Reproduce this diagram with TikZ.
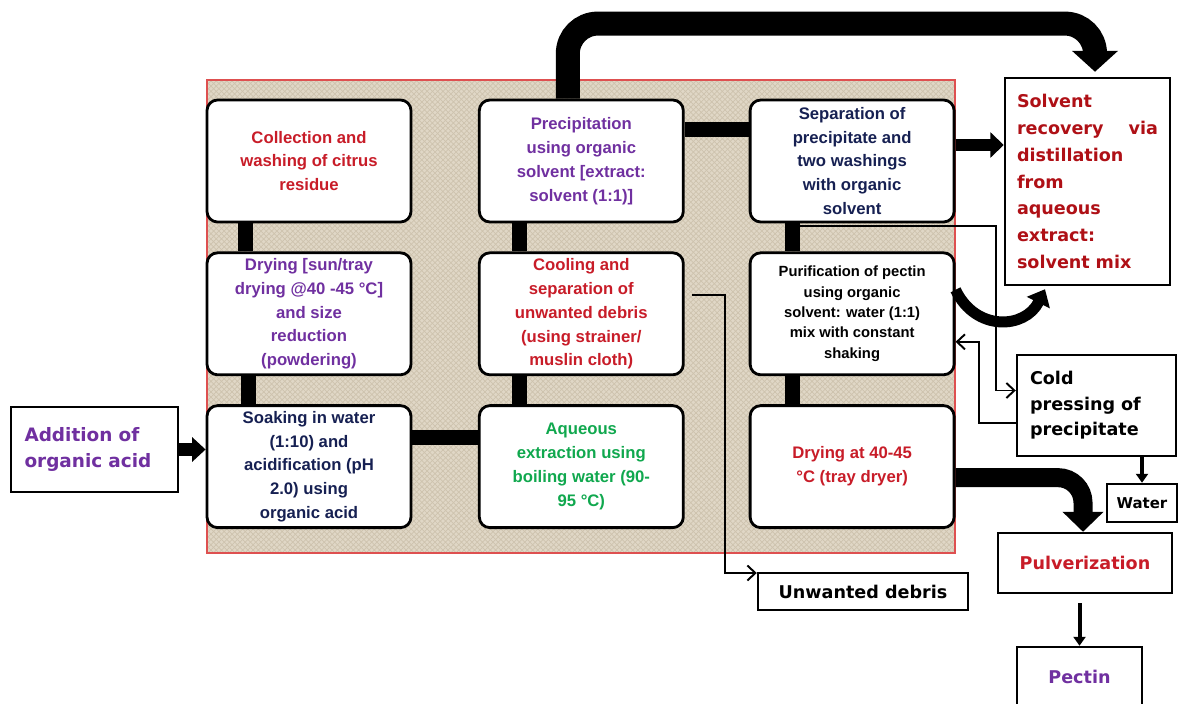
\documentclass[tikz,border=0pt]{standalone}
\usepackage{fontspec}
\setmainfont{Liberation Sans}
\newfontfamily\heavyfont{DejaVu Sans}
\usepackage{xcolor}
\usetikzlibrary{
  arrows.meta,
  positioning,
  calc,
  patterns
}
\definecolor{procred}{RGB}{200,28,40}
\definecolor{solvred}{RGB}{175,16,22}
\definecolor{procpurple}{RGB}{112,48,160}
\definecolor{procnavy}{RGB}{22,32,82}
\definecolor{procgreen}{RGB}{16,168,78}
\definecolor{linen}{RGB}{224,215,198}
\definecolor{linendark}{RGB}{206,195,174}
\definecolor{panelred}{RGB}{222,80,80}

\begin{document}
\begin{tikzpicture}[
    node distance=0.56cm and 1.31cm,
    stepbox/.style={draw, line width=1.6pt, rounded corners=6pt, fill=white, minimum width=4.08cm, minimum height=2.44cm, align=center, inner sep=1pt, font=\bfseries\fontsize{9.5}{13.6}\selectfont},
    outbox/.style={draw, line width=1.4pt, fill=white, inner sep=0pt, font=\heavyfont\bfseries\fontsize{10}{15.3}\selectfont},
    bar/.style={line width=0.3cm},
    bigarrow/.style={-{Triangle[width=0.9cm,length=0.42cm]}, line width=0.48cm, rounded corners=0.6cm},
    medarrow/.style={-{Triangle[width=#1,length=0.27cm]}, line width=0.25cm},
    smallarrow/.style={-{Triangle[width=0.24cm,length=0.18cm]}, line width=0.08cm},
    thinarrow/.style={-{Straight Barb[length=1.6mm,width=3mm]}, line width=1.1pt},
]
\useasboundingbox (0,0) rectangle (23.56,-14.06);

% === Linen panel ===
\fill[linen] (4.14,-1.6) rectangle (19.1,-11.06);
\fill[pattern=crosshatch, pattern color=linendark] (4.14,-1.6) rectangle (19.1,-11.06);
\draw[panelred, line width=0.6pt] (4.14,-1.6) rectangle (19.1,-11.06);

% === Process steps (3x3 grid) ===
\node[stepbox, text=procred] at (6.18,-3.22) (coll) {Collection and\\washing of citrus\\residue};
\node[stepbox, text=procpurple, below=of coll] (dry) {Drying [sun/tray\\drying @40 -45 °C]\\and size\\reduction\\(powdering)};
\node[stepbox, text=procnavy, below=of dry] (soak) {Soaking in water\\(1:10) and\\acidification (pH\\2.0) using\\organic acid};

\node[stepbox, text=procpurple, right=of coll] (precip) {Precipitation\\using organic\\solvent [extract:\\solvent (1:1)]};
\node[stepbox, text=procred, below=of precip] (cool) {Cooling and\\separation of\\unwanted debris\\(using strainer/\\muslin cloth)};
\node[stepbox, text=procgreen, below=of cool] (aqex) {Aqueous\\extraction using\\boiling water (90-\\95 °C)};

\node[stepbox, text=procnavy, right=1.28cm of precip] (sep) {Separation of\\precipitate and\\two washings\\with organic\\solvent};
\node[stepbox, text=black, below=of sep, font=\bfseries\fontsize{8.4}{11.6}\selectfont] (purif) {Purification of pectin\\using organic\\solvent: water (1:1)\\mix with constant\\shaking};
\node[stepbox, text=procred, below=of purif] (drytray) {Drying at 40-45\\°C (tray dryer)};

% === Grid connectors ===
\draw[bar] ($(coll.south)+(-1.28,0)$) -- ($(dry.north)+(-1.28,0)$);
\draw[bar] ($(dry.south)+(-1.22,0)$) -- ($(soak.north)+(-1.22,0)$);
\draw[bar] ($(soak.east)+(0,0.58)$) -- ($(aqex.west)+(0,0.58)$);
\draw[bar] ($(aqex.north)+(-1.23,0)$) -- ($(cool.south)+(-1.23,0)$);
\draw[bar] ($(cool.north)+(-1.23,0)$) -- ($(precip.south)+(-1.23,0)$);
\draw[bar] ($(precip.east)+(0,0.64)$) -- ($(sep.west)+(0,0.64)$);
\draw[bar] ($(sep.south)+(-1.2,0)$) -- ($(purif.north)+(-1.2,0)$);
\draw[bar] ($(purif.south)+(-1.2,0)$) -- ($(drytray.north)+(-1.2,0)$);

% === Outside boxes ===
\node[outbox, text=procpurple, minimum width=3.34cm, minimum height=1.7cm, text width=2.8cm, align=left, font=\heavyfont\bfseries\fontsize{10.5}{15.3}\selectfont] at (1.89,-8.99) (acid) {Addition of\\organic acid};
\node[outbox, text=solvred, minimum width=3.3cm, minimum height=4.14cm, text width=2.82cm, align=left] at (21.75,-3.63) (solv) {Solvent\\recovery\hfill via\\distillation\\from\\aqueous\\extract:\\solvent mix};
\node[outbox, text=black, minimum width=3.18cm, minimum height=2.02cm, text width=2.66cm, align=left, font=\heavyfont\bfseries\fontsize{10}{14.5}\selectfont] at (21.93,-8.11) (cold) {Cold\\pressing of\\precipitate};
\node[outbox, text=black, minimum width=1.4cm, minimum height=0.76cm, font=\heavyfont\bfseries\fontsize{8.5}{10}\selectfont] at (22.84,-10.06) (water) {Water};
\node[outbox, text=procred, minimum width=3.48cm, minimum height=1.2cm] at (21.7,-11.26) (pulv) {Pulverization};
\node[outbox, text=procpurple, minimum width=2.5cm, minimum height=1.2cm] at (21.59,-13.54) (pectin) {Pectin};
\node[outbox, text=black, minimum width=4.2cm, minimum height=0.74cm] at (17.26,-11.83) (debris) {Unwanted debris};

% === Flow arrows ===
\draw[bigarrow] ($(precip.north)+(-0.27,0)$) -- ++(0,1.5) -| ($(solv.north)+(0.15,0.1)$);
\coordinate (sepout) at ($(sep.east)+(0,0.32)$);
\draw[medarrow=0.5cm, line width=0.24cm] (sepout) -- (sepout -| solv.west);
\draw[medarrow=0.48cm] (acid.east) -- (acid.east -| soak.west);
\draw[-{Triangle[width=0.8cm,length=0.4cm]}, line width=0.38cm, rounded corners=0.5cm] ($(drytray.east)+(0,-0.22)$) -| ($(pulv.north)+(-0.04,0)$);
\draw[-{Triangle[width=0.5cm,length=0.3cm]}, line width=0.22cm] ($(purif.east)+(0,0.48)$) .. controls +(0.4,-0.84) and +(-0.4,-0.8) .. ($(solv.south)+(-0.85,-0.06)$);

\draw[smallarrow] (water.north |- cold.south) -- (water.north);
\draw[smallarrow, shorten <=0.18cm] (pulv.south -| pectin.north) -- (pectin.north);

% === Side streams ===
\coordinate (washout) at ($(sep.south)+(-1.05,-0.06)$);
\draw[thinarrow] (washout) -- ++(3.92,0) |- ($(cold.west)+(0,0.3)$);
\draw[thinarrow] ($(cold.west)+(0,-0.35)$) -- ++(-0.74,0) |- ($(purif.east)+(0,-0.56)$);
\draw[thinarrow] ($(cool.east)+(0.14,0.38)$) -- ++(0.66,0) |- ($(debris.west)+(0,0.37)$);

\end{tikzpicture}
\end{document}
